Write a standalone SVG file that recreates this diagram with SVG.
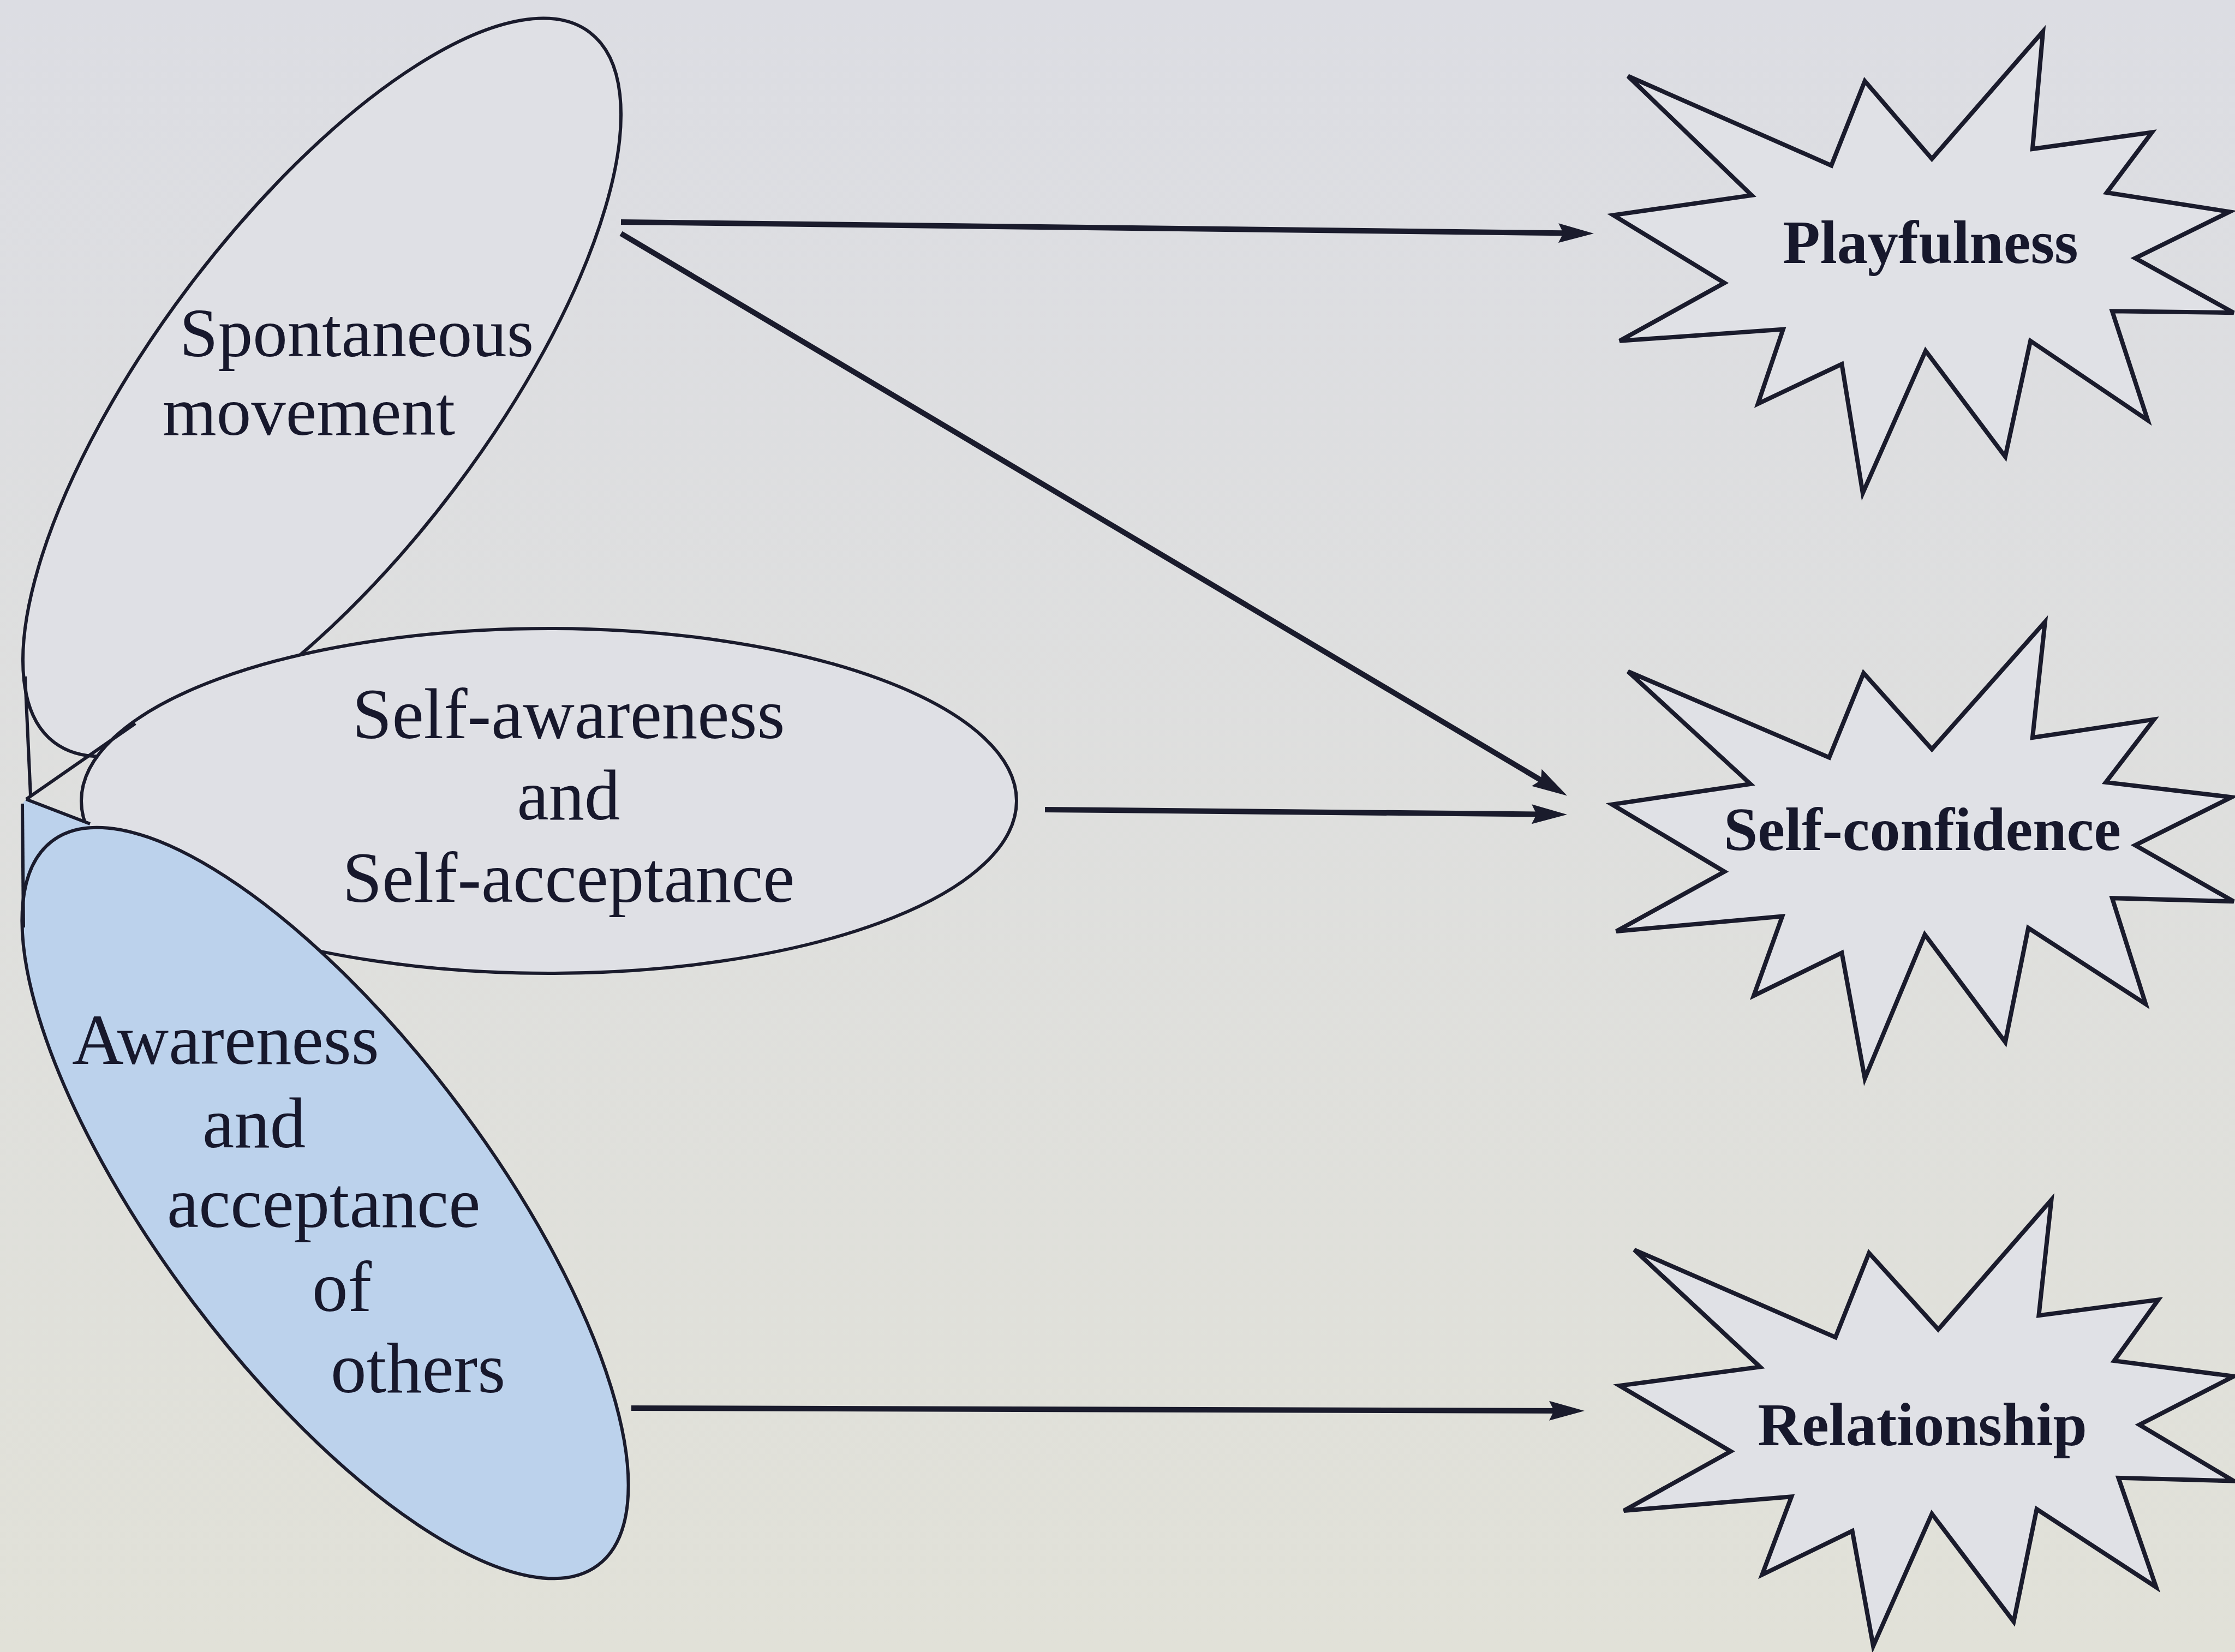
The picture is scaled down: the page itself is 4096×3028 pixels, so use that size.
<svg xmlns="http://www.w3.org/2000/svg" width="4096" height="3028" viewBox="0 0 4096 3028">
<defs>
<linearGradient id="bg" x1="0" y1="0" x2="0" y2="1">
<stop offset="0" stop-color="#dcdde3"/>
<stop offset="1" stop-color="#e1e1d8"/>
</linearGradient>
<marker id="ah" markerUnits="userSpaceOnUse" markerWidth="66" markerHeight="38" viewBox="0 0 66 38" refX="36" refY="19" orient="auto">
<path d="M0,1 L65,19 L0,37 L9,19 Z" fill="#1a1b2c"/>
</marker>
</defs>
<style>
.el{fill:#dfe0e5;stroke:#1a1b2c;stroke-width:6}
.blue{fill:#bcd2ec;stroke:#1a1b2c;stroke-width:6}
.bluefill{fill:#bcd2ec;stroke:none}
.thin{fill:none;stroke:#1a1b2c;stroke-width:6}
.star{fill:#e0e1e6;stroke:#1a1b2c;stroke-width:8;stroke-linejoin:miter}
.lbl{font-family:"Liberation Serif","Times New Roman",serif;font-size:131px;fill:#17182c}
.lbl2{font-family:"Liberation Serif","Times New Roman",serif;font-size:127px;fill:#17182c}
.mid{text-anchor:middle}
.slbl{font-family:"Liberation Serif","Times New Roman",serif;font-weight:bold;font-size:112px;fill:#17182c;text-anchor:middle}
.conn{fill:none;stroke:#1a1b2c;stroke-width:10;marker-end:url(#ah)}
</style>
<rect width="4096" height="3028" fill="url(#bg)"/>

<g id="spontaneous-movement">
<ellipse class="el" cx="0" cy="0" rx="815" ry="306" transform="translate(590 710) rotate(-53)"/>
<text class="lbl2" x="329" y="653">Spontaneous</text>
<text class="lbl2" x="298" y="797">movement</text>
</g>

<g id="self-awareness">
<ellipse class="el" cx="1006" cy="1468" rx="857" ry="316"/>
<text class="lbl mid" x="1042" y="1353">Self-awareness</text>
<text class="lbl mid" x="1042" y="1502">and</text>
<text class="lbl mid" x="1042" y="1653">Self-acceptance</text>
</g>

<g id="awareness-others">
<path class="bluefill" d="M48,1465 L165,1510 L165,1600 L45,1700 L41,1473 Z"/>
<ellipse class="blue" cx="0" cy="0" rx="831" ry="303" transform="translate(596 2205) rotate(53)"/>
<text class="lbl" x="132" y="1950">Awareness</text>
<text class="lbl" x="371" y="2103">and</text>
<text class="lbl" x="306" y="2249">acceptance</text>
<text class="lbl" x="572" y="2403">of</text>
<text class="lbl" x="606" y="2552">others</text>
</g>

<g id="junction">
<path class="thin" d="M46,1240 L56,1458"/>
<path class="thin" d="M48,1465 L248,1326"/>
<path class="thin" d="M48,1465 L165,1510"/>
<path class="thin" d="M41,1473 L43,1700"/>
</g>

<g id="playfulness">
<polygon class="star" points="2983.6,139.5 3356.2,303.3 3417.6,148.6 3540.5,291.2 3744.1,57.6 3724.9,273 3943.8,242.6 3860.9,353 4086,388.2 3913.1,473.1 4093.6,573.2 3870.9,570.2 3936.2,770.4 3721.1,624.8 3675,837.1 3529,643 3413.8,903.8 3375.4,667.3 3221.7,740 3267.8,603.6 2968.2,624.8 3160.3,518.6 2956.7,394.3 3210.2,357.9"/>
<text class="slbl" x="3538" y="482">Playfulness</text>
</g>

<g id="self-confidence">
<polygon class="star" points="2983.6,1230.7 3352.3,1388.4 3415.3,1233.7 3540.5,1373.2 3747.9,1139.7 3724.9,1352 3947.7,1318.6 3859.3,1433.9 4089.8,1461.2 3913.1,1549.2 4093.6,1652.3 3870.9,1646.2 3932.3,1840.3 3717.2,1700.8 3675,1910.1 3527.5,1712.9 3417.6,1976.8 3375.4,1746.3 3214,1825.2 3266.3,1679.6 2962.1,1706.9 3160.3,1597.7 2954.4,1474.5 3207.9,1436.9"/>
<text class="slbl" x="3523" y="1558">Self-confidence</text>
</g>

<g id="relationship">
<polygon class="star" points="2995.1,2290.8 3363.8,2451.2 3425.3,2296.6 3552.1,2436.8 3759.5,2199.2 3736.4,2411.1 3955.4,2382.4 3874.7,2494.1 4093.6,2522.7 3920.8,2611.5 4093.6,2714.5 3882.4,2708.8 3951.5,2909.2 3732.6,2766.1 3690.4,2972.2 3540.5,2774.7 3433,3017 3394.6,2806.2 3229.4,2886.3 3283.2,2743.2 2975.9,2769 3171.8,2660.2 2968.2,2539.9 3225.6,2505.5"/>
<text class="slbl" x="3523" y="2649">Relationship</text>
</g>

<g id="connectors">
<path class="conn" d="M1138,407 L2892,427.6"/>
<path class="conn" d="M1138,428 L2847.2,1443.7"/>
<path class="conn" d="M1915,1484 L2843,1492.7"/>
<path class="conn" d="M1157,2581 L2875,2585.9"/>
</g>
</svg>
